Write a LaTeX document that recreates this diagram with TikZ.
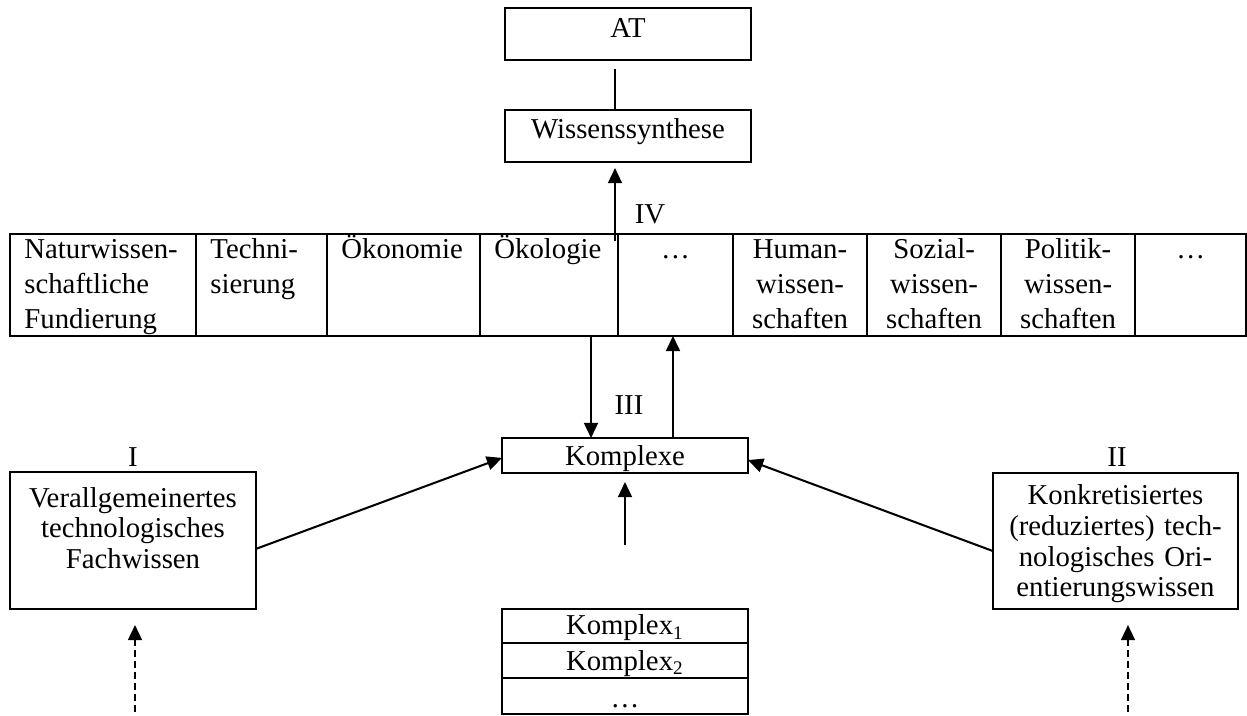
\documentclass[tikz,border=0pt]{standalone}
\usepackage{fontspec}
\setmainfont{Liberation Serif}
\usetikzlibrary{arrows.meta}
\hyphenpenalty=10000

\begin{document}
\begin{tikzpicture}[x=0.417pt, y=-0.417pt, line width=0.85pt, >={Triangle[length=6.3pt,width=5.8pt]}]
\tikzstyle{box}=[draw, line width=1.1pt, inner sep=0pt, outer sep=0pt, anchor=north, font=\fontsize{12}{12.8}\selectfont]
\tikzstyle{cell}=[draw, line width=1.1pt, inner xsep=6pt, inner ysep=0pt, outer sep=0pt, anchor=north west, text height=10.2pt, text depth=32.3pt, font=\fontsize{12}{14.6}\selectfont]
\tikzstyle{lbl}=[inner sep=0pt, font=\fontsize{12}{14}\selectfont]
\useasboundingbox (0,0) rectangle (1247,715);

% top
\node[box, minimum width=102.6pt, text height=12.1pt, text depth=9.6pt] (AT) at (628,8) {AT};
\node[box, minimum width=102.6pt, text height=11.7pt, text depth=10pt] (WS) at (628,110) {Wissenssynthese};

% fields
\node[cell, text width=65.6pt, align=left] (F1) at (10,234) {Naturwissen-\\schaftliche\\Fundierung};
\node[cell, text width=42.6pt, align=left] (F2) at (F1.north east) {Techni-\\sierung};
\node[cell, text width=51.8pt, align=left] (F3) at (F2.north east) {Ökonomie};
\node[cell, text width=45.5pt, align=left] (F4) at (F3.north east) {Ökologie};
\node[cell, text width=36pt, align=center] (F5) at (F4.north east) {…};
\node[cell, text width=43.9pt, align=center] (F6) at (F5.north east) {Human-\\wissen-\\schaften};
\node[cell, text width=43.9pt, align=center] (F7) at (F6.north east) {Sozial-\\wissen-\\schaften};
\node[cell, text width=43.9pt, align=center] (F8) at (F7.north east) {Politik-\\wissen-\\schaften};
\node[cell, text width=34.3pt, align=center] (F9) at (F8.north east) {…};

% middle
\node[box, minimum width=102.6pt, text height=11.3pt, text depth=3.3pt] (K) at (625,438) {Komplexe};
\node[box, minimum width=102.6pt, text width=100pt, align=center, text height=14.6pt, text depth=42.5pt] (B1) at (133,472) {Verallgemeinertes\\technologisches\\Fachwissen};
\node[box, minimum width=102.2pt, text width=100pt, align=center, text height=13.3pt, text depth=43.4pt] (B2) at (1115.5,473) {Konkretisiertes\\(reduziertes) tech-\\nologisches Ori-\\entierungswissen};

% bottom
\node[box, minimum width=102.6pt, text height=10.8pt, text depth=3.4pt] (K1) at (625,609) {Komplex\textsubscript{1}};
\node[box, minimum width=102.6pt, text height=11.3pt, text depth=3.3pt] (K2) at (K1.south) {Komplex\textsubscript{2}};
\node[box, minimum width=102.6pt, text height=12.1pt, text depth=2.9pt] (K3) at (K2.south) {…};

\node[lbl] (L1) at (133,457) {I};
\node[lbl] (L2) at (1117,457) {II};
\node[lbl] (L3) at (629,405) {III};
\node[lbl] (L4) at (650,214) {IV};

\coordinate (ax) at (615,0);
\coordinate (ivtail) at (615,241);
\coordinate (dn) at (591,0);
\coordinate (up) at (673,0);
\coordinate (ktail) at (625,545);
\coordinate (d1) at (135,712);
\coordinate (d2) at (1128,712);

\draw[shorten <=3.75pt] (AT.south -| ax) -- (WS.north -| ax);
\draw[->, shorten >=2.5pt] (ivtail) -- (WS.south -| ax);
\draw[->] (F4.south -| dn) -- (K.north -| dn);
\draw[->] (K.north -| up) -- (F5.south -| up);
\draw[->, shorten >=3.75pt] (ktail) -- (K.south);
\draw[->] ([yshift=-3.5pt]B1.east) -- ([yshift=-1pt]K.west);
\draw[->] ([yshift=-4.2pt]B2.west) -- ([yshift=-1.9pt]K.east);
\draw[->, dash pattern=on 2.8pt off 1.8pt, shorten >=6.7pt] (d1) -- (B1.south -| d1);
\draw[->, dash pattern=on 2.8pt off 1.8pt, shorten >=6.7pt] (d2) -- (B2.south -| d2);
\end{tikzpicture}
\end{document}
